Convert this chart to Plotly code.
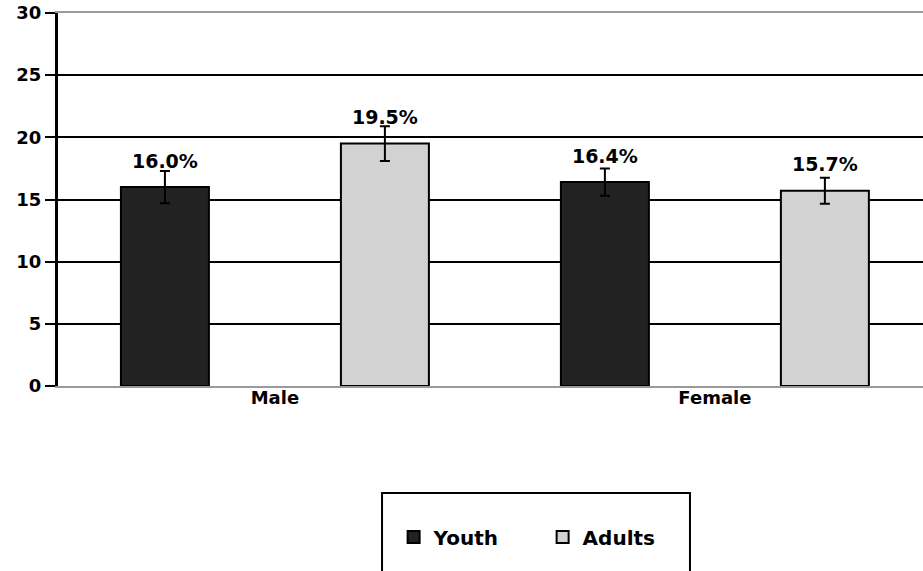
import plotly.graph_objects as go

categories = ["Male", "Female"]
youth = [16.0, 16.4]
adults = [19.5, 15.7]
youth_err = [1.3, 1.1]
adults_err = [1.4, 1.05]
y_ticks = [0, 5, 10, 15, 20, 25, 30]
grid_ticks = [5, 10, 15, 20, 25]

FONT = "DejaVu Sans, Liberation Sans, Arial, sans-serif"

fig = go.Figure()
fig.add_trace(go.Bar(
    name="Youth", x=categories, y=youth,
    marker=dict(color="#222222", line=dict(color="black", width=2)),
    error_y=dict(type="data", array=youth_err, color="black", thickness=2, width=5),
))
fig.add_trace(go.Bar(
    name="Adults", x=categories, y=adults,
    marker=dict(color="#d2d2d2", line=dict(color="black", width=2)),
    error_y=dict(type="data", array=adults_err, color="black", thickness=2, width=5),
))
# value labels, grouped to sit over the bars
for vals in (youth, adults):
    fig.add_trace(go.Scatter(
        x=categories, y=vals, mode="markers+text",
        marker=dict(size=22, color="rgba(0,0,0,0)"),
        text=[f"{v:.1f}%" for v in vals], textposition="top center",
        textfont=dict(family=FONT, size=19, color="black", weight="bold"),
        showlegend=False, hoverinfo="skip", cliponaxis=False,
    ))
# invisible trace on overlaying axis to carry black gridlines
fig.add_trace(go.Scatter(x=categories, y=[None, None], yaxis="y2",
                         showlegend=False, hoverinfo="skip"))

fig.update_layout(
    width=923, height=571,
    margin=dict(l=58, r=0, t=13, b=185),
    paper_bgcolor="white", plot_bgcolor="white",
    barmode="group", bargap=0, bargroupgap=0.6,
    scattermode="group", scattergap=0,
    font=dict(family=FONT, color="black"),
    xaxis=dict(
        range=[-0.493, 1.473], showline=True, mirror=True,
        linecolor="#9a9a9a", linewidth=2, showgrid=False, zeroline=False,
        ticks="", ticklabelstandoff=-6,
        tickfont=dict(family=FONT, size=18, color="black", weight="bold"),
    ),
    yaxis=dict(
        range=[0, 30], tickvals=y_ticks, showgrid=False, zeroline=False,
        showline=True, linecolor="black", linewidth=3,
        ticks="outside", ticklen=10, tickwidth=2, tickcolor="black",
        tickfont=dict(family=FONT, size=18, color="black", weight="bold"),
    ),
    yaxis2=dict(
        range=[0, 30], overlaying="y", side="left", tickvals=grid_ticks,
        showgrid=True, gridcolor="black", gridwidth=2, showticklabels=False,
        ticks="", zeroline=False, showline=False,
    ),
    legend=dict(
        orientation="h", x=0.388, y=-0.405, xanchor="left", yanchor="middle",
        font=dict(family=FONT, size=20, color="black", weight="bold"),
        borderwidth=0, bgcolor="rgba(0,0,0,0)", itemwidth=30,
        entrywidth=104, entrywidthmode="pixels",
    ),
    shapes=[dict(
        type="rect", xref="paper", yref="paper",
        x0=0.3746, x1=0.7306, y0=-0.287, y1=-0.51,
        line=dict(color="black", width=2), fillcolor="rgba(0,0,0,0)",
    )],
)

fig.write_html("out.html", config={"displayModeBar": False},
               post_script="document.body.style.margin='0px';")
